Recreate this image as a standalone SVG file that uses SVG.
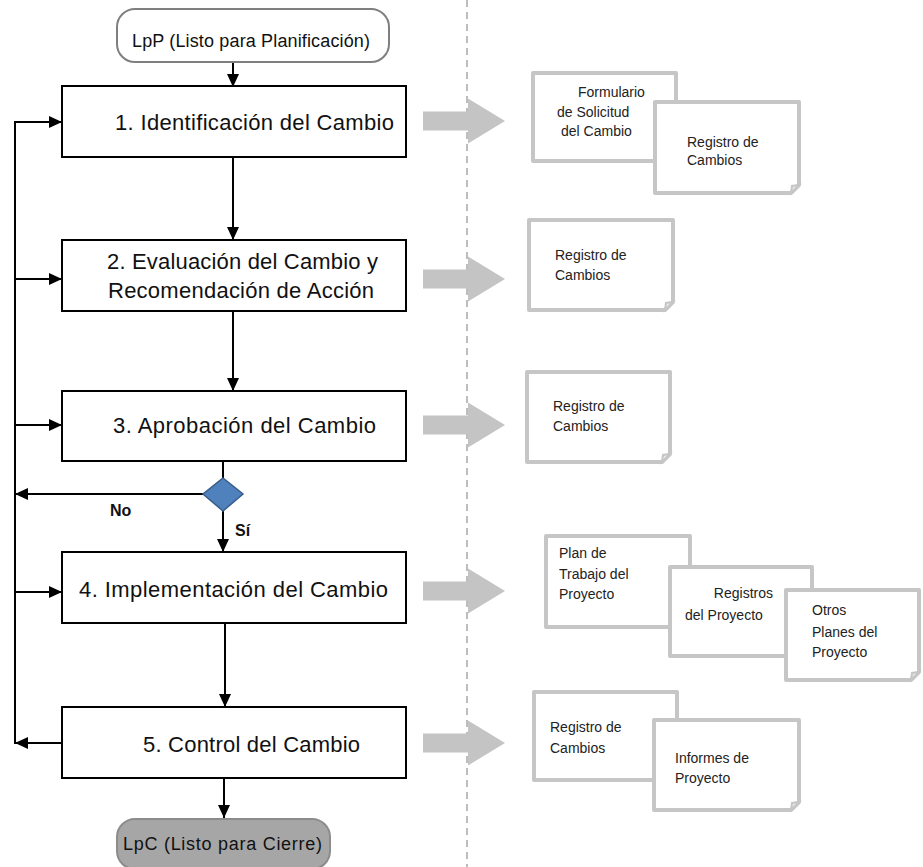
<svg xmlns="http://www.w3.org/2000/svg" width="923" height="867" viewBox="0 0 923 867">
  <defs>
    <marker id="ah" markerUnits="userSpaceOnUse" markerWidth="13" markerHeight="12" refX="13" refY="6" orient="auto">
      <path d="M0,0 L13,6 L0,12 Z" fill="#000"/>
    </marker>
    <path id="bigArrow" d="M0,-9.5 H45 V-22.5 L82,0 L45,22.5 V9.5 H0 Z"/>
  </defs>
  <style>
    .box { fill: #fff; stroke: #000; stroke-width: 2; }
    .term { stroke-width: 2; }
    .step { font-family: "Liberation Sans", Arial, sans-serif; font-size: 22px; fill: #111; }
    .termtxt { font-family: "Liberation Sans", Arial, sans-serif; font-size: 18px; fill: #111; }
    .doc { fill: #fff; stroke: #c6c6c6; stroke-width: 4; stroke-linejoin: round; }
    .fold { fill: #e8e8e8; stroke: #c6c6c6; stroke-width: 2; }
    .doctxt { font-family: "Liberation Sans", Arial, sans-serif; font-size: 14px; fill: #222; }
    .lbl { font-family: "Liberation Sans", Arial, sans-serif; font-size: 16px; font-weight: bold; fill: #111; }
    .conn { fill: none; stroke: #000; stroke-width: 2; }
    .out { fill: #c4c4c4; }
  </style>

  <!-- swimlane divider -->
  <line x1="467" y1="0" x2="467" y2="867" stroke="#bdbdbd" stroke-width="2" stroke-dasharray="7,5"/>

  <!-- connectors -->
  <g id="connectors">
    <line class="conn" x1="233" y1="62" x2="233" y2="87" marker-end="url(#ah)"/>
    <line class="conn" x1="233" y1="157" x2="233" y2="240" marker-end="url(#ah)"/>
    <line class="conn" x1="233" y1="311" x2="233" y2="391" marker-end="url(#ah)"/>
    <line class="conn" x1="223" y1="461" x2="223" y2="478"/>
    <line class="conn" x1="223" y1="511" x2="223" y2="552" marker-end="url(#ah)"/>
    <line class="conn" x1="203" y1="494" x2="15" y2="494" marker-end="url(#ah)"/>
    <line class="conn" x1="225" y1="623" x2="225" y2="707" marker-end="url(#ah)"/>
    <line class="conn" x1="224" y1="778" x2="224" y2="818" marker-end="url(#ah)"/>
    <!-- feedback loop -->
    <line class="conn" x1="62" y1="743" x2="15" y2="743" marker-end="url(#ah)"/>
    <line class="conn" x1="15" y1="122" x2="15" y2="744"/>
    <line class="conn" x1="14" y1="122" x2="62" y2="122" marker-end="url(#ah)"/>
    <line class="conn" x1="15" y1="279" x2="62" y2="279" marker-end="url(#ah)"/>
    <line class="conn" x1="15" y1="425" x2="62" y2="425" marker-end="url(#ah)"/>
    <line class="conn" x1="15" y1="592" x2="62" y2="592" marker-end="url(#ah)"/>
    <!-- outputs -->
    <use href="#bigArrow" class="out" x="423" y="121"/>
    <use href="#bigArrow" class="out" x="423" y="279"/>
    <use href="#bigArrow" class="out" x="423" y="425"/>
    <use href="#bigArrow" class="out" x="423" y="591"/>
    <use href="#bigArrow" class="out" x="423" y="743"/>
    <text class="lbl" x="110" y="516">No</text>
    <text class="lbl" x="235" y="536">Sí</text>
  </g>

  <g id="lpp">
    <rect class="term" x="117" y="9" width="272" height="53" rx="18" fill="#fff" stroke="#7f7f7f"/>
    <text class="termtxt" x="132" y="47" textLength="238">LpP (Listo para Planificación)</text>
  </g>

  <g id="step1">
    <rect class="box" x="62" y="86" width="344" height="71"/>
    <text class="step" x="115" y="130" textLength="279">1. Identificación  del Cambio</text>
  </g>

  <g id="step2">
    <rect class="box" x="62" y="240" width="344" height="71"/>
    <text class="step" x="107" y="269" textLength="271">2. Evaluación  del Cambio y</text>
    <text class="step" x="108" y="298" textLength="266">Recomendación  de Acción</text>
  </g>

  <g id="step3">
    <rect class="box" x="62" y="391" width="344" height="70"/>
    <text class="step" x="113" y="433" textLength="263">3. Aprobación  del Cambio</text>
  </g>

  <g id="decision">
    <polygon points="223,478 243,494 223,511 203,494" fill="#4f81bd" stroke="#385d8a" stroke-width="1.5"/>
  </g>

  <g id="step4">
    <rect class="box" x="62" y="552" width="344" height="71"/>
    <text class="step" x="79" y="597" textLength="309">4. Implementación  del Cambio</text>
  </g>

  <g id="step5">
    <rect class="box" x="62" y="707" width="344" height="71"/>
    <text class="step" x="143" y="752" textLength="217">5. Control del Cambio</text>
  </g>

  <g id="lpc">
    <rect class="term" x="117" y="819" width="213" height="50" rx="18" fill="#a6a6a6" stroke="#8c8c8c"/>
    <text class="termtxt" x="123" y="850" textLength="199">LpC (Listo para Cierre)</text>
  </g>

  <!-- documents produced by step 1 -->
  <g id="docs1">
    <rect class="doc" x="533" y="73" width="143" height="88"/>
    <text class="doctxt" x="578" y="97">Formulario</text>
    <text class="doctxt" x="557" y="117">de Solicitud</text>
    <text class="doctxt" x="561" y="136">del Cambio</text>
    <path class="doc" d="M655,102 H799 V185 L791,193 H655 Z"/>
    <path class="fold" d="M799,185 L791,193 L792,186 Z"/>
    <text class="doctxt" x="687" y="147">Registro  de</text>
    <text class="doctxt" x="687" y="165">Cambios</text>
  </g>

  <!-- documents produced by step 2 -->
  <g id="docs2">
    <path class="doc" d="M529,220 H673 V302 L665,310 H529 Z"/>
    <path class="fold" d="M673,302 L665,310 L666,303 Z"/>
    <text class="doctxt" x="555" y="260">Registro  de</text>
    <text class="doctxt" x="555" y="280">Cambios</text>
  </g>

  <!-- documents produced by step 3 -->
  <g id="docs3">
    <path class="doc" d="M527,372 H670 V454 L662,462 H527 Z"/>
    <path class="fold" d="M670,454 L662,462 L663,455 Z"/>
    <text class="doctxt" x="553" y="411">Registro  de</text>
    <text class="doctxt" x="553" y="431">Cambios</text>
  </g>

  <!-- documents produced by step 4 -->
  <g id="docs4">
    <rect class="doc" x="546" y="536" width="144" height="91"/>
    <text class="doctxt" x="559" y="558">Plan de</text>
    <text class="doctxt" x="559" y="579">Trabajo del</text>
    <text class="doctxt" x="559" y="599">Proyecto</text>
    <rect class="doc" x="670" y="567" width="142" height="89"/>
    <text class="doctxt" x="773" y="598" text-anchor="end">Registros</text>
    <text class="doctxt" x="685" y="620">del Proyecto</text>
    <path class="doc" d="M786,590 H919 V672 L911,680 H786 Z"/>
    <path class="fold" d="M919,672 L911,680 L912,673 Z"/>
    <text class="doctxt" x="812" y="615">Otros</text>
    <text class="doctxt" x="812" y="637">Planes del</text>
    <text class="doctxt" x="812" y="657">Proyecto</text>
  </g>

  <!-- documents produced by step 5 -->
  <g id="docs5">
    <rect class="doc" x="534" y="692" width="143" height="88"/>
    <text class="doctxt" x="550" y="732">Registro  de</text>
    <text class="doctxt" x="550" y="753">Cambios</text>
    <path class="doc" d="M654,720 H799 V802 L791,810 H654 Z"/>
    <path class="fold" d="M799,802 L791,810 L792,803 Z"/>
    <text class="doctxt" x="675" y="763">Informes de</text>
    <text class="doctxt" x="675" y="783">Proyecto</text>
  </g>
</svg>
